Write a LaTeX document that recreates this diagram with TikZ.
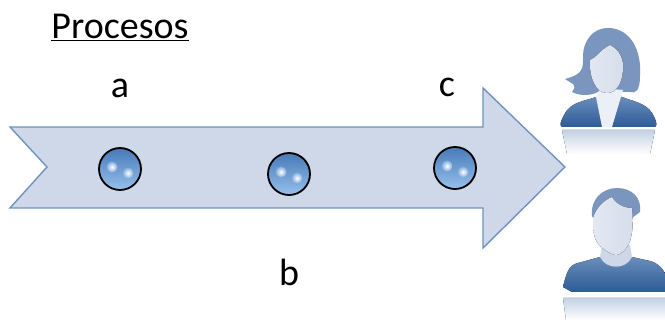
\documentclass[tikz,border=0pt]{standalone}
\usepackage{fontspec}
\setmainfont{Carlito}
\usetikzlibrary{positioning}
\definecolor{arrowbg}{RGB}{206,216,233}
\definecolor{arrowline}{RGB}{112,146,190}
\definecolor{hairblue}{RGB}{122,150,190}
\definecolor{suittop}{RGB}{105,140,188}
\definecolor{suitlow}{RGB}{45,92,150}
\definecolor{skin}{RGB}{226,232,242}
\definecolor{ballmid}{RGB}{150,192,236}
\definecolor{ballout}{RGB}{72,122,184}

\begin{document}
\begin{tikzpicture}[
    x=1pt, y=-1pt,
    label/.style={font=\fontsize{38}{42}\selectfont, inner sep=0pt},
    ball/.style={draw=black, line width=1.8pt, circle, minimum size=42pt, inner sep=0pt,
                 top color=ballout, bottom color=ballmid},
    glint/.style={circle, minimum size=11pt, inner sep=0pt, inner color=white, outer color=ballmid!70!ballout},
    hair/.style={fill=hairblue},
    face/.style={left color=skin, right color=skin!88!hairblue},
    suit/.style={top color=suittop, bottom color=suitlow},
    mirror/.style={top color=suittop!40, bottom color=white}
]
    \useasboundingbox (0,0) rectangle (665,320);

    % arrow
    \draw[fill=arrowbg, draw=arrowline, line width=1.4pt] (10,127) -- (483,127) -- (483,88) -- (565,167)
        -- (483,248) -- (483,208) -- (10,208) -- (47,167) -- cycle;

    % process points
    \node[ball] (ballA) at (120,169) {};
    \node[ball] (ballB) at (289,174) {};
    \node[ball] (ballC) at (455,168) {};
    \foreach \n in {ballA,ballB,ballC} {
        \node[glint] (\n-l) at ([shift={(-8,-2)}]\n.center) {};
        \node[glint] (\n-r) at ([shift={(8,4)}]\n.center) {};
    }

    % labels
    \node[label] (title) at (120,27) {\underline{Procesos}};
    \node[label, above=49pt of ballA] (labA) {a};
    \node[label, below=63pt of ballB] (labB) {b};
    \node[label] (labC) at (447,87) {c};

    % woman
    \fill[mirror] (562,130) -- (655,130) -- (650,154) -- (567,154) -- cycle;
    \fill[hair] (608,28) .. controls (592,28) and (583,42) .. (583,56)
        .. controls (583,68) and (584,74) .. (565,79)
        .. controls (572,84) and (578,84) .. (572,92)
        .. controls (580,96) and (590,96) .. (598,92)
        -- (630,92) .. controls (636,94) and (640,90) .. (640,76)
        .. controls (642,50) and (630,28) .. (608,28) -- cycle;
    \fill[suit] (596,97) .. controls (585,101) and (570,102) .. (564,115)
        .. controls (561,121) and (559,125) .. (562,127) -- (655,127)
        .. controls (658,125) and (656,120) .. (652,113)
        .. controls (646,103) and (632,101) .. (622,97) -- cycle;
    \fill[skin!70!white] (596,97) -- (602,127) -- (612,127) -- (623,90) -- (600,88) -- cycle;
    \fill[face] (590,60) .. controls (596,58) and (600,50) .. (610,45)
        .. controls (620,50) and (624,60) .. (623,70)
        .. controls (622,84) and (616,93) .. (607,93)
        .. controls (596,93) and (589,78) .. (590,60) -- cycle;

    % man
    \fill[mirror] (563,298) -- (665,298) -- (665,320) -- (566,320) -- cycle;
    \fill[suit] (563,287) .. controls (566,275) and (568,265) .. (578,263)
        -- (600,257) .. controls (606,268) and (626,268) .. (632,257)
        -- (650,261) .. controls (658,263) and (662,268) .. (665,273)
        -- (665,292) -- (572,292) -- cycle;
    \fill[skin!80!hairblue] (602,245) -- (600,257) .. controls (606,270) and (626,270) .. (632,257) -- (630,245) -- cycle;
    \fill[hair] (592,216) .. controls (590,200) and (602,188) .. (617,188)
        .. controls (632,188) and (642,198) .. (640,212) -- (632,218) -- (594,220) -- cycle;
    \fill[face] (593,218) .. controls (596,208) and (604,200) .. (612,197)
        .. controls (616,204) and (624,208) .. (632,208)
        .. controls (634,225) and (632,240) .. (627,247)
        .. controls (622,254) and (618,255) .. (615,255)
        .. controls (606,252) and (598,246) .. (595,238)
        .. controls (593,232) and (593,224) .. (593,218) -- cycle;
\end{tikzpicture}
\end{document}
